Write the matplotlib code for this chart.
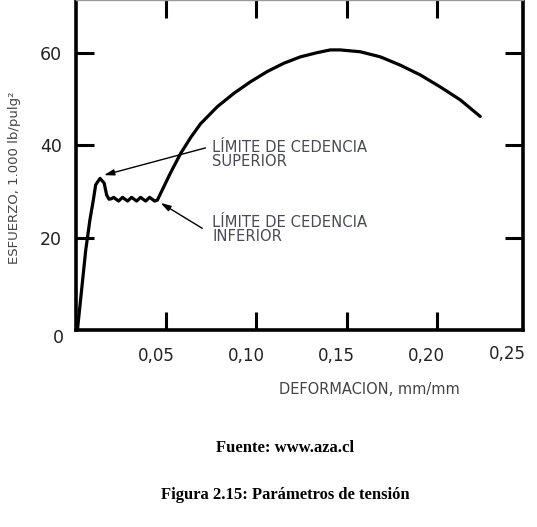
import matplotlib
matplotlib.use("Agg")
import matplotlib.pyplot as plt
from matplotlib.transforms import ScaledTranslation

# -----------------------------
# Data (strain mm/mm, stress 1000 lb/pulg2)
# -----------------------------
strain = [0.0008, 0.0054, 0.0077, 0.0096, 0.0109, 0.0133, 0.0156, 0.0170, 0.0183,
          0.0196, 0.0209, 0.0222, 0.0236, 0.0247, 0.0258, 0.0272, 0.0286, 0.0297,
          0.0308, 0.0322, 0.0336, 0.0347, 0.0358, 0.0372, 0.0386, 0.0397, 0.0408,
          0.0422, 0.0436, 0.0451, 0.0524, 0.0580, 0.0635, 0.0690, 0.0783, 0.0875,
          0.0967, 0.1059, 0.1151, 0.1244, 0.1336, 0.1410, 0.1465, 0.1576, 0.1687,
          0.1798, 0.1908, 0.2019, 0.2130, 0.2241]
stress = [0.0, 17.3, 23.8, 28.1, 31.4, 32.8, 31.8, 29.2, 28.3,
          28.4, 28.7, 28.3, 27.9, 28.3, 28.7, 28.3, 27.9, 28.3,
          28.7, 28.3, 27.9, 28.3, 28.7, 28.3, 27.9, 28.3, 28.7,
          28.3, 27.9, 28.1, 34.0, 38.2, 41.6, 44.6, 48.3, 51.2,
          53.7, 55.9, 57.7, 59.1, 60.0, 60.6, 60.6, 60.2, 59.1,
          57.3, 55.2, 52.6, 49.8, 46.2]

x_ticks = [0.05, 0.10, 0.15, 0.20]
x_tick_labels = ["0,05", "0,10", "0,15", "0,20"]
y_ticks = [20, 40, 60]
y_tick_labels = ["20", "40", "60"]

# arrows: tail and head
sup_tail = (0.0718, 39.4)
sup_head = (0.0155, 33.5)
inf_tail = (0.0700, 22.0)
inf_head = (0.0469, 27.5)

# -----------------------------
# Figure
# -----------------------------
W, H = 537, 527
fig = plt.figure(figsize=(W / 100, H / 100), dpi=100)
ax = fig.add_axes([76 / W, 1 - 330 / H, (523 - 76) / W, 330 / H])

ax.plot(strain, stress, color="black", lw=2.3, solid_joinstyle="round",
        solid_capstyle="round", clip_on=False)

ax.set_xlim(0, 0.2478)
ax.set_ylim(0, 71.4)

for side in ["left", "bottom", "right"]:
    ax.spines[side].set_linewidth(2.6)
ax.spines["top"].set_linewidth(1.0)
ax.spines["top"].set_color("#999999")

ax.set_xticks(x_ticks)
ax.set_xticklabels(x_tick_labels)
ax.set_yticks(y_ticks)
ax.set_yticklabels(y_tick_labels)
ax.tick_params(axis="x", direction="in", length=13, width=2.2, top=True,
               labelsize=12, pad=12, labelcolor="#222222")
ax.tick_params(axis="y", direction="in", length=13, width=2.2, right=True,
               labelsize=12.5, pad=10, labelcolor="#222222")
for lab in ax.get_xticklabels():
    lab.set_transform(lab.get_transform() + ScaledTranslation(-10 / 100, 0, fig.dpi_scale_trans))

ax.text(-0.0096, -1.8, "0", fontsize=12.5, color="#222222", ha="center", va="center",
        clip_on=False)
ax.text(0.2390, -5.2, "0,25", fontsize=12, color="#222222", ha="center", va="center",
        clip_on=False)

# annotations
ann_kw = dict(arrowstyle="-|>,head_length=0.6,head_width=0.18", color="black", lw=1.0,
              shrinkA=0, shrinkB=0)
ax.annotate("", xy=sup_head, xytext=sup_tail, arrowprops=ann_kw)
ax.annotate("", xy=inf_head, xytext=inf_tail, arrowprops=ann_kw)

fig.text(212 / W, 1 - 140 / H, "LÍMITE DE CEDENCIA\nSUPERIOR",
         fontsize=10.6, color="#4a4a55", ha="left", va="top", linespacing=0.92)
fig.text(212 / W, 1 - 215 / H, "LÍMITE DE CEDENCIA\nINFERIOR",
         fontsize=10.6, color="#4a4a55", ha="left", va="top", linespacing=0.92)

# axis labels
fig.text(369 / W, 1 - 390 / H, "DEFORMACION, mm/mm", fontsize=10.5,
         color="#444444", ha="center", va="center")
fig.text(15 / W, 1 - 178 / H, "ESFUERZO, 1.000 lb/pulg²", fontsize=9.5,
         color="#444444", ha="center", va="center", rotation=90)

# captions
fig.text(285 / W, 1 - 448 / H, "Fuente: www.aza.cl", family="Liberation Serif",
         weight="bold", fontsize=12, ha="center", va="center")
fig.text(285 / W, 1 - 495 / H, "Figura 2.15: Parámetros de tensión",
         family="Liberation Serif", weight="bold", fontsize=12, ha="center", va="center")

fig.savefig("out.png", dpi=100)
